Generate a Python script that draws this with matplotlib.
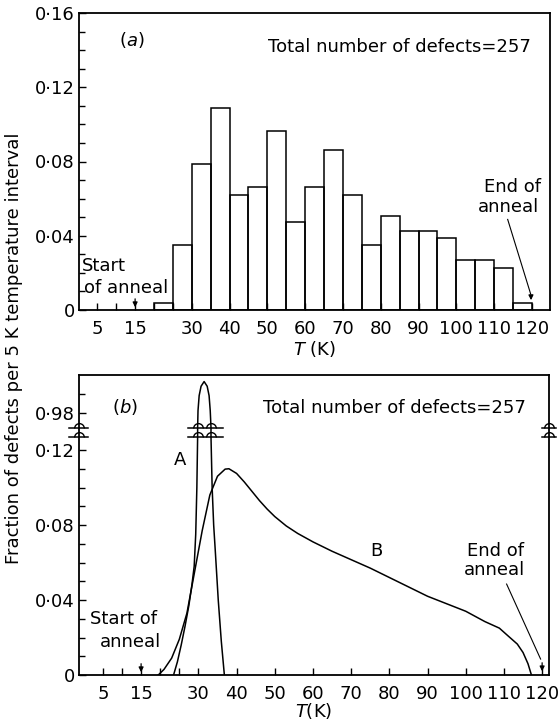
import numpy as np
import matplotlib
matplotlib.use("Agg")
import matplotlib.pyplot as plt
from matplotlib.path import Path

# ---------------- data ----------------
# (a) histogram: left edge of each 5 K interval and fraction of defects
bin_left = [20, 25, 30, 35, 40, 45, 50, 55, 60, 65, 70, 75, 80, 85, 90, 95, 100, 105, 110, 115]
fraction = [0.0037, 0.035, 0.0787, 0.1089, 0.0621, 0.066, 0.0966, 0.0474, 0.066, 0.0861,
            0.0621, 0.035, 0.0504, 0.0427, 0.0427, 0.0386, 0.0267, 0.0267, 0.0227, 0.0037]

# (b) curve A (sharp peak, runs through the axis break)
curveA_T = [23.5, 24.5, 25.5, 26.5, 27.5, 28.3, 28.9, 29.3, 29.6, 29.8,
            29.8, 29.9, 30.2, 30.7, 31.5, 32.3, 32.8, 33.1, 33.3,
            33.3, 33.6, 34.0, 34.4, 35.2, 36.0, 36.8]
curveA_y = [0.0, 0.007, 0.016, 0.026, 0.037, 0.048, 0.058, 0.075, 0.100, 0.127,
            0.972, 0.981, 0.989, 0.994, 0.9965, 0.994, 0.989, 0.981, 0.972,
            0.127, 0.100, 0.080, 0.067, 0.040, 0.018, 0.0]

# (b) curve B (broad distribution)
curveB_T = [19.5, 21, 23, 25, 27, 29, 31, 33, 35, 37, 38, 40, 42, 44, 46, 48, 50, 53, 56,
            60, 65, 70, 75, 80, 85, 90, 95, 100, 105, 108.8, 111, 113.5, 115, 116.3, 117.2]
curveB_y = [0.0, 0.003, 0.009, 0.019, 0.033, 0.055, 0.077, 0.096, 0.106, 0.1098, 0.110,
            0.1075, 0.103, 0.098, 0.093, 0.0885, 0.0845, 0.0795, 0.0755,
            0.071, 0.066, 0.0615, 0.057, 0.052, 0.047, 0.042, 0.038, 0.034, 0.0285,
            0.025, 0.021, 0.0165, 0.012, 0.006, 0.0]

xtick_vals = [5, 10, 15, 20, 25, 30, 40, 50, 60, 70, 80, 90, 100, 110, 120]
xtick_labels = ["5", "", "15", "", "", "30", "40", "50", "60", "70", "80", "90", "100", "110", "120"]

ytick_a_vals = [0, 0.04, 0.08, 0.12, 0.16]
ytick_a_labels = ["0", "0\u00b704", "0\u00b708", "0\u00b712", "0\u00b716"]
ytick_b_vals = [0, 0.04, 0.08, 0.12, 0.98]
ytick_b_labels = ["0", "0\u00b704", "0\u00b708", "0\u00b712", "0\u00b798"]

total_text = "Total number of defects=257"

# ---------------- style ----------------
plt.rcParams['font.family'] = ['DejaVu Sans']
plt.rcParams['font.size'] = 13
plt.rcParams['mathtext.fontset'] = 'dejavusans'
FS = 13
LW = 1.1

fig = plt.figure(figsize=(5.58, 7.22), dpi=100)
axa = fig.add_axes([79/558, 1-310/722, 471/558, 297/722])
axb = fig.add_axes([79/558, 1-675/722, 470/558, 300/722])

for ax in (axa, axb):
    for s in ax.spines.values():
        s.set_linewidth(1.3)
    ax.tick_params(axis='both', which='both', direction='in', top=False, right=False,
                   width=1.0, labelsize=FS)
    ax.tick_params(axis='both', which='major', length=5)
    ax.tick_params(axis='both', which='minor', length=4)
    ax.tick_params(axis='x', pad=7)
    ax.tick_params(axis='y', pad=3)
    ax.set_xticks(xtick_vals)
    ax.set_xticklabels(xtick_labels)

# ---------------- panel (a) ----------------
axa.bar(bin_left, fraction, width=5, align='edge', fill=False, edgecolor='black', linewidth=LW)
axa.set_xlim(0.15, 124.8)
axa.set_ylim(0, 0.16)
axa.set_yticks(ytick_a_vals)
axa.set_yticklabels(ytick_a_labels)
axa.set_yticks([v / 100 for v in range(1, 16) if v % 4 != 0], minor=True)
axa.set_xlabel(r"$T$ (K)", fontsize=FS, labelpad=1)

axa.text(0.112, 0.909, r"($\it{a}$)", transform=axa.transAxes, ha='center', va='center', fontsize=FS)
axa.text(0.402, 0.887, total_text, transform=axa.transAxes, ha='left', va='center', fontsize=FS)
axa.text(0.9, 0.0237, "Start", ha='left', va='center', fontsize=FS)
axa.text(1.6, 0.0121, "of anneal", ha='left', va='center', fontsize=FS)
axa.annotate("", xy=(15, 0.0), xytext=(15, 0.0075),
             arrowprops=dict(arrowstyle='-|>', color='black', lw=0.9, mutation_scale=7))
axa.text(115.0, 0.0663, "End of", ha='center', va='center', fontsize=FS)
axa.text(113.7, 0.0555, "anneal", ha='center', va='center', fontsize=FS)
axa.plot([113.6, 119.7], [0.0488, 0.0085], color='black', lw=0.8)
axa.annotate("", xy=(119.8, 0.0038), xytext=(119.75, 0.009),
             arrowprops=dict(arrowstyle='-|>', color='black', lw=0.9, mutation_scale=7))

# ---------------- panel (b) with broken y axis ----------------
LO, HI, HI_D = 0.127, 0.972, 0.132
SHIFT = HI - HI_D


def fwd(y):
    y = np.asarray(y, dtype=float)
    mid = LO + (y - LO) * (HI_D - LO) / (HI - LO)
    return np.where(y <= LO, y, np.where(y >= HI, y - SHIFT, mid))


def inv(d):
    d = np.asarray(d, dtype=float)
    mid = LO + (d - LO) * (HI - LO) / (HI_D - LO)
    return np.where(d <= LO, d, np.where(d >= HI_D, d + SHIFT, mid))


axb.set_yscale('function', functions=(fwd, inv))
axb.plot(curveA_T, curveA_y, color='black', lw=LW)
axb.plot(curveB_T, curveB_y, color='black', lw=LW)
axb.set_xlim(-1.26, 121.8)
axb.set_ylim(0, 1.0)
axb.set_yticks(ytick_b_vals)
axb.set_yticklabels(ytick_b_labels)
axb.set_yticks([v / 100 for v in range(1, 12) if v % 4 != 0] + [0.99], minor=True)
axb.set_xlabel(r"$T$(K)", fontsize=FS, labelpad=-1)

# break marks with small "hops"
hop = Path.arc(0, 180)
for yb in (LO, HI):
    axb.plot([27.3, 36.4], [yb, yb], color='black', lw=LW)
    axb.plot([29.8, 33.3], [yb, yb], linestyle='none', marker=hop, markersize=7,
             markerfacecolor='none', markeredgecolor='black', markeredgewidth=1.0)
    tr = axb.get_yaxis_transform()
    axb.plot([-0.022, 0.02], [yb, yb], color='black', lw=LW, transform=tr, clip_on=False)
    axb.plot([0], [yb], transform=tr, clip_on=False, linestyle='none', marker=hop, markersize=7,
             markerfacecolor='none', markeredgecolor='black', markeredgewidth=1.0)
    axb.plot([0.985, 1.015], [yb, yb], color='black', lw=LW, transform=tr, clip_on=False)
    axb.plot([1], [yb], transform=tr, clip_on=False, linestyle='none', marker=hop, markersize=7,
             markerfacecolor='none', markeredgecolor='black', markeredgewidth=1.0)

axb.text(0.098, 0.894, r"($\it{b}$)", transform=axb.transAxes, ha='center', va='center', fontsize=FS)
axb.text(0.392, 0.889, total_text, transform=axb.transAxes, ha='left', va='center', fontsize=FS)
axb.text(25.3, 0.1147, "A", ha='center', va='center', fontsize=FS)
axb.text(76.5, 0.066, "B", ha='center', va='center', fontsize=FS)
axb.text(10.3, 0.0296, "Start of", ha='center', va='center', fontsize=FS)
axb.text(12.2, 0.0174, "anneal", ha='center', va='center', fontsize=FS)
axb.annotate("", xy=(15, 0.0), xytext=(15, 0.0075),
             arrowprops=dict(arrowstyle='-|>', color='black', lw=0.9, mutation_scale=7))
axb.text(107.7, 0.0664, "End of", ha='center', va='center', fontsize=FS)
axb.text(107.4, 0.056, "anneal", ha='center', va='center', fontsize=FS)
axb.plot([110.7, 119.6], [0.0485, 0.0085], color='black', lw=0.8)
axb.annotate("", xy=(120, 0.0005), xytext=(120, 0.008),
             arrowprops=dict(arrowstyle='-|>', color='black', lw=0.9, mutation_scale=7))

fig.text(0.025, 1 - 348/722, "Fraction of defects per 5 K temperature interval",
         rotation=90, ha='center', va='center', fontsize=FS)

fig.savefig("out.png", dpi=100)
